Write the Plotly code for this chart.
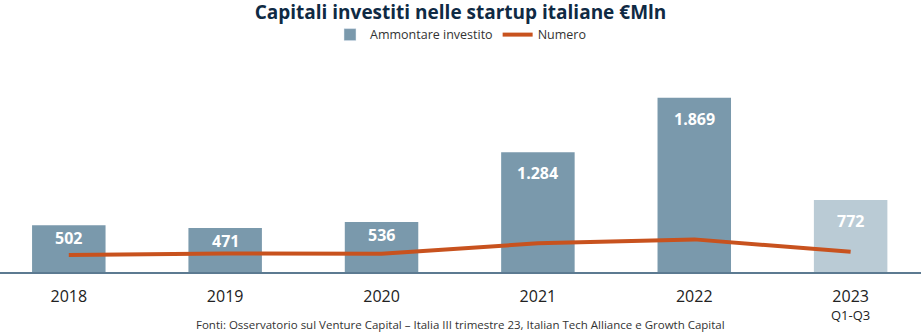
import plotly.graph_objects as go

categories = ["2018", "2019", "2020", "2021", "2022", "2023"]
tick_labels = ["2018", "2019", "2020", "2021", "2022", "2023<br>Q1-Q3"]
ammontare = [502, 471, 536, 1284, 1869, 772]
numero = [52, 57, 56, 88, 100, 62]

bar_colors = ["#7a99ac"] * 5 + ["#bacbd5"]
labels = [f"{v:,}".replace(",", ".") for v in ammontare]

FONT = "Open Sans"


def tick_text(t):
    parts = t.split("<br>")
    out = f"<span style='font-size:16px'>{parts[0]}</span>"
    for p in parts[1:]:
        out += f"<br><span style='font-size:13px'>{p}</span>"
    return out


fig = go.Figure()
fig.add_trace(go.Bar(
    x=categories, y=ammontare, name="Ammontare investito",
    marker=dict(color=bar_colors, line=dict(width=0)),
    width=0.47,
    showlegend=False, hoverinfo="x+y",
))
# legend proxy for bar (uniform color swatch)
fig.add_trace(go.Bar(
    x=[None], y=[None], name="Ammontare investito",
    marker=dict(color="#7a99ac"), showlegend=True,
))
fig.add_trace(go.Scatter(
    x=categories, y=numero, name="Numero", yaxis="y2",
    mode="lines", line=dict(color="#c8521e", width=4),
))

annotations = []
for i, (v, t) in enumerate(zip(ammontare, labels)):
    annotations.append(dict(
        x=i, y=v, xref="x", yref="y", text=f"<b>{t}</b>", showarrow=False,
        xanchor="center", yanchor="middle",
        yshift=-13 if v < 600 else -21,
        font=dict(family=FONT, size=16, color="white"),
    ))
annotations.append(dict(
    text="Fonti: Osservatorio sul Venture Capital – Italia III trimestre 23, Italian Tech Alliance e Growth Capital",
    xref="paper", yref="paper", x=0.5, y=0, yshift=-52,
    xanchor="center", yanchor="middle", showarrow=False,
    font=dict(family=FONT, size=11.5, color="#333333"),
))

fig.update_layout(
    width=921, height=332,
    margin=dict(l=0, r=0, t=60, b=60),
    paper_bgcolor="white", plot_bgcolor="white",
    barmode="overlay",
    title=dict(
        text="<b>Capitali investiti nelle startup italiane €Mln</b>",
        x=0.5, xanchor="center", y=0.962, yanchor="middle",
        font=dict(family=FONT, size=19, color="#0f2a44"),
    ),
    legend=dict(
        orientation="h", x=0.5, xanchor="center", y=1.118, yanchor="middle",
        font=dict(family=FONT, size=12.5, color="#333333"),
        itemwidth=30, traceorder="normal",
    ),
    xaxis=dict(
        type="category", range=[-0.44, 5.45],
        tickvals=categories, ticktext=[tick_text(t) for t in tick_labels],
        tickfont=dict(family=FONT, size=14, color="#222222"),
        showgrid=False, showline=True, linecolor="#5c7a91", linewidth=2,
        ticks="", ticklabelstandoff=11,
    ),
    yaxis=dict(range=[0, 2273], visible=False, showgrid=False),
    yaxis2=dict(range=[0, 650], overlaying="y", side="right",
                visible=False, showgrid=False),
    annotations=annotations,
)

fig.write_html("out.html")
